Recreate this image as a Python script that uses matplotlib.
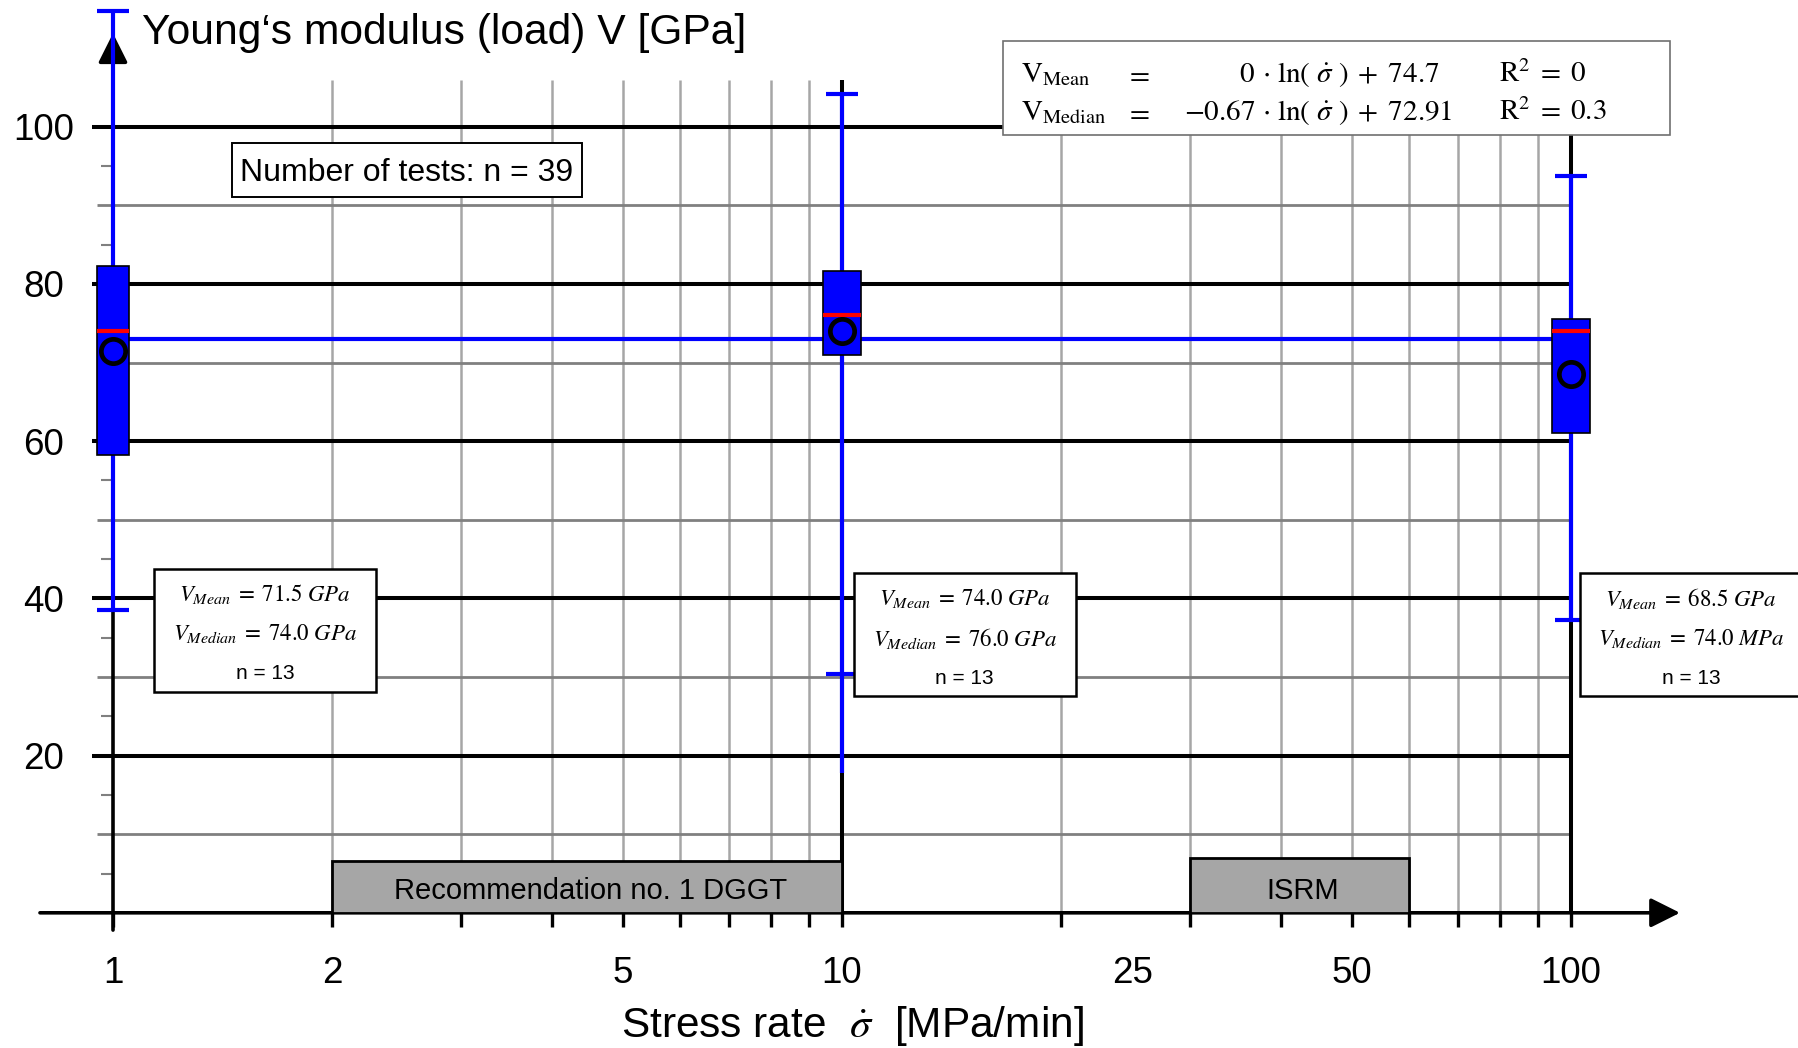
import matplotlib.pyplot as plt
from matplotlib.patches import Rectangle
from matplotlib.ticker import NullFormatter

plt.rcParams['font.family'] = ['Liberation Sans', 'DejaVu Sans']
plt.rcParams['mathtext.fontset'] = 'stix'

# Young's modulus per stress rate group [GPa]
rates = [1, 10, 100]
q1 = [58.3, 71.0, 61.1]
q3 = [82.3, 81.6, 75.5]
means = [71.5, 74.0, 68.5]
medians = [74.0, 76.0, 74.0]
median_units = ["GPa", "GPa", "MPa"]
whisker_top = [114.7, 104.2, 93.7]
whisker_cap_low = [38.5, 30.4, 37.2]
whisker_end_low = [38.5, 17.8, 37.2]
n_per_rate = [13, 13, 13]
n_total = 39
median_all = 73.0

# logarithmic fits V = a * ln(rate) + b
fit_names = ["Mean", "Median"]
fit_slopes = ["0", "-0.67"]
fit_intercepts = ["74.7", "72.91"]
fit_r2 = ["0", "0.3"]

# recommended stress rate ranges [MPa/min]
range_lo = [2, 30]
range_hi = [10, 60]
range_names = ["Recommendation no. 1 DGGT", "ISRM"]

xtick_vals = [1, 2, 5, 10, 25, 50, 100]
xgrid_minor = [2, 3, 4, 5, 6, 7, 8, 9, 20, 30, 40, 50, 60, 70, 80, 90]
xgrid_major = [10, 100]
ygrid_major = [20, 40, 60, 80, 100]
ygrid_minor = [10, 30, 50, 70, 90]
ytick_small = [5, 15, 25, 35, 45, 55, 65, 75, 85, 95]

W, H = 1798, 1048
BLUE = '#0000ff'

fig = plt.figure(figsize=(W / 100, H / 100), dpi=100)
ax = fig.add_axes([113 / W, (H - 912.8) / H, 1567 / W, 912.8 / H])
ax.set_xscale('log')
x_end = 10 ** (1567 / 729)
ax.set_xlim(1, x_end)
ax.set_ylim(0, 912.8 / 7.86)
for s in ax.spines.values():
    s.set_visible(False)

# grid
ax.vlines(xgrid_minor, 0, 105.9, colors='#a6a6a6', lw=1.8, zorder=1)
ax.vlines(xgrid_major, 0, 105.9, colors='black', lw=2.9, zorder=1.5)
ax.hlines(ygrid_minor, 0.952, 100, colors='#808080', lw=2.0, zorder=1, clip_on=False)
ax.hlines(ygrid_major, 0.936, 100, colors='black', lw=2.9, zorder=1.5, clip_on=False)

# axes with arrow heads
arrow = dict(arrowstyle='-|>,head_length=0.9,head_width=0.45', lw=2.6,
             color='black', shrinkA=0, shrinkB=0, mutation_scale=20)
ax.annotate('', xy=(x_end, 0), xytext=(0.794, 0), arrowprops=arrow,
            annotation_clip=False, zorder=3)
ax.annotate('', xy=(1, 111.9), xytext=(1, -2.2), arrowprops=arrow,
            annotation_clip=False, zorder=3)

# ticks
ax.set_xticks(xtick_vals, [str(v) for v in xtick_vals])
ax.set_xticks([1] + xgrid_minor + xgrid_major, minor=True)
ax.xaxis.set_minor_formatter(NullFormatter())
ax.xaxis.remove_overlapping_locs = False
ax.tick_params(axis='x', which='major', length=0, pad=31, labelsize=26.5)
ax.tick_params(axis='x', which='minor', length=10, width=2.4, color='black')
ax.set_yticks(ygrid_major)
ax.set_yticks(ytick_small, minor=True)
ax.yaxis.set_minor_formatter(NullFormatter())
ax.tick_params(axis='y', which='major', length=0, pad=50, labelsize=26.5)
ax.tick_params(axis='y', which='minor', length=8.6, width=1.5, color='#808080')
for lbl in ax.get_yticklabels():
    lbl.set_horizontalalignment('center')

ax.set_ylabel("Young\u2018s modulus (load) V [GPa]", rotation=0, fontsize=30.7,
              ha='left', va='baseline')
ax.yaxis.set_label_coords(28.7 / 1567, (912.8 - 43.6) / 912.8)
ax.set_xlabel(r"Stress rate  $\dot{\sigma}$  [MPa/min]", fontsize=30.5, va='baseline')
ax.xaxis.set_label_coords(739 / 1567, (912.8 - 1036.6) / 912.8)

# recommended ranges
for lo, hi, h, name in zip(range_lo, range_hi, [6.6, 7.0], range_names):
    ax.add_patch(Rectangle((lo, 0), hi - lo, h, facecolor='#a6a6a6',
                           edgecolor='black', lw=2, zorder=3))
    ax.text((lo * hi) ** 0.5 * 1.01, 2.8, name, ha='center', va='center',
            fontsize=21, zorder=3.1)

# box plots
ax.hlines(median_all, rates[0], rates[-1], colors=BLUE, lw=3, zorder=4)
box_hw = [0.0226, 0.0261, 0.0261]
cap_hw = 0.0213
for i, x in enumerate(rates):
    x0, x1 = x * 10 ** -box_hw[i], x * 10 ** box_hw[i]
    ax.vlines(x, whisker_end_low[i], whisker_top[i], colors=BLUE, lw=3,
              zorder=5, clip_on=False)
    ax.hlines([whisker_cap_low[i], whisker_top[i]], x * 10 ** -cap_hw,
              x * 10 ** cap_hw, colors=BLUE, lw=3, zorder=5, clip_on=False)
    ax.add_patch(Rectangle((x0, q1[i]), x1 - x0, q3[i] - q1[i], facecolor=BLUE,
                           edgecolor='black', lw=1.2, zorder=6, clip_on=False))
    ax.hlines(medians[i], x0, x1, colors='red', lw=3, zorder=7, clip_on=False)
    ax.plot(x, means[i], 'o', ms=17.5, mfc='none', mec='black', mew=3.4,
            zorder=8, clip_on=False)


def fig_box(x0, y0, x1, y1, ec='black', lw=1.6):
    fig.add_artist(Rectangle((x0 / W, 1 - y1 / H), (x1 - x0) / W, (y1 - y0) / H,
                             transform=fig.transFigure, facecolor='white',
                             edgecolor=ec, lw=lw, zorder=10))


def fig_text(x, y, s, **kw):
    kw.setdefault('zorder', 11)
    fig.text(x / W, 1 - y / H, s, **kw)


# number of tests
fig_box(231.6, 143.3, 582.5, 197.2, lw=1.4)
fig_text(407, 173, f"Number of tests: n = {n_total}", ha='center', va='center',
         fontsize=23)

# statistics per stress rate
stat_boxes = [(153.7, 568.8, 376.1, 691.5), (854, 573.4, 1075.6, 696),
              (1580, 573.4, 1802, 696)]
for i, (bx0, by0, bx1, by1) in enumerate(stat_boxes):
    fig_box(bx0, by0, bx1, by1, lw=1.8)
    cx = (bx0 + bx1) / 2
    fig_text(cx, by0 + 25, rf"$V_{{Mean}}\;=\;{means[i]:.1f}\ GPa$",
             ha='center', va='center', fontsize=16.5)
    fig_text(cx, by0 + 65,
             rf"$V_{{Median}}\;=\;{medians[i]:.1f}\ {median_units[i]}$",
             ha='center', va='center', fontsize=16.5)
    fig_text(cx, by0 + 105, f"n = {n_per_rate[i]}", ha='center', va='center',
             fontsize=15)

# regression equations
fig_box(1003, 40.7, 1670, 135.3, ec='#707070', lw=1.2)
for row, (name, a, b, r2) in enumerate(zip(fit_names, fit_slopes, fit_intercepts, fit_r2)):
    y = 82 + row * 38
    fig_text(1020.6, y, rf"$\mathrm{{V}}_{{\mathrm{{{name}}}}}$", ha='left',
             va='baseline', fontsize=21)
    fig_text(1137.5, y, r"$=$", ha='center', va='baseline', fontsize=21)
    fig_text(1255, y, rf"${a}$", ha='right', va='baseline', fontsize=21)
    fig_text(1262, y, rf"$\cdot\ \ln(\ \dot{{\sigma}}\ )\;+\;{b}$", ha='left',
             va='baseline', fontsize=21)
    fig_text(1498.7, y, rf"$\mathrm{{R}}^2\;=\;{r2}$", ha='left', va='baseline',
             fontsize=21)

fig.savefig('out.png', dpi=100)
